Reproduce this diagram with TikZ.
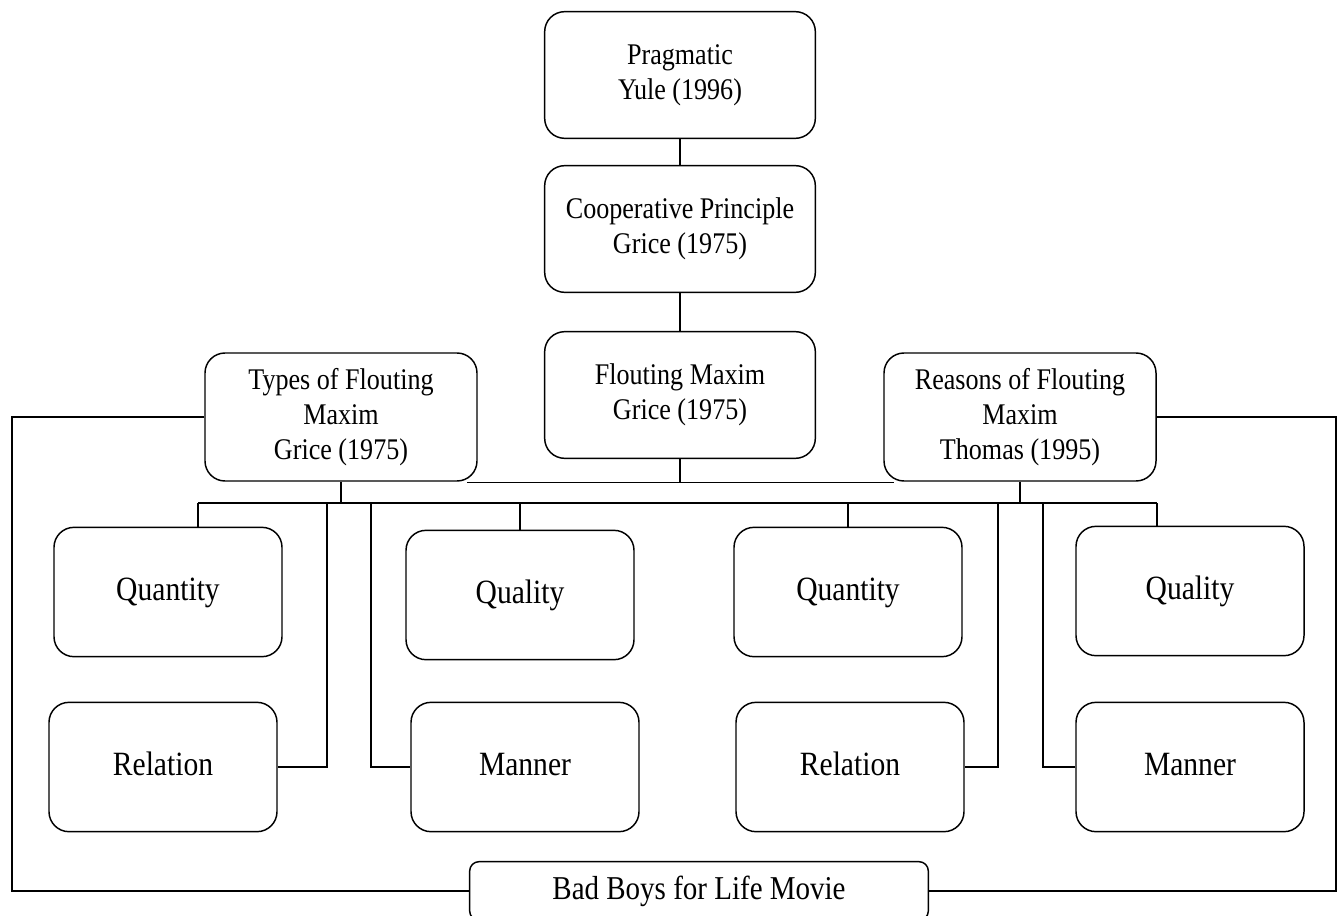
\documentclass[tikz,border=0pt]{standalone}
\usepackage{fontspec}
\setmainfont{Liberation Serif}
\newfontfamily\boxfont[FakeStretch=0.87]{Liberation Serif}
\usepackage{tikz}
\usetikzlibrary{positioning}

\begin{document}
\begin{tikzpicture}[
    x=0.75pt, y=-0.75pt,
    line width=1.1pt,
    topbox/.style={draw, rounded corners=15pt, align=center, minimum width=203pt, minimum height=95pt, font=\boxfont\fontsize{22.5}{26.25}\selectfont},
    sidebox/.style={draw, rounded corners=15pt, align=center, minimum width=204pt, minimum height=96pt, font=\boxfont\fontsize{22.5}{26.25}\selectfont},
    maxbox/.style={draw, rounded corners=15pt, align=center, minimum width=171pt, minimum height=97pt, text height=17pt, text depth=5pt, font=\boxfont\fontsize{25.5}{30}\selectfont},
    moviebox/.style={draw, rounded corners=7pt, minimum width=344pt, minimum height=44pt, font=\boxfont\fontsize{25}{30}\selectfont},
    link/.style={draw, line width=1.1pt}
]
\useasboundingbox (0,0) rectangle (1341,916);
% top chain
\node[topbox] (prag) at (680,75) {Pragmatic\\Yule (1996)};
\node[topbox] (coop) at (680,229) {Cooperative Principle\\Grice (1975)};
\node[topbox] (flout) at (680,395) {Flouting Maxim\\Grice (1975)};
\node[sidebox] (types) at (341,417) {Types of Flouting\\Maxim\\Grice (1975)};
\node[sidebox] (reasons) at (1020,417) {Reasons of Flouting\\Maxim\\Thomas (1995)};
% maxims
\node[maxbox] (qn1) at (168,592) {Quantity};
\node[maxbox] (ql1) at (520,595) {Quality};
\node[maxbox] (qn2) at (848,592) {Quantity};
\node[maxbox] (ql2) at (1190,591) {Quality};
\node[maxbox] (rel1) at (163,767) {Relation};
\node[maxbox] (man1) at (525,767) {Manner};
\node[maxbox] (rel2) at (850,767) {Relation};
\node[maxbox] (man2) at (1190,767) {Manner};
\node[moviebox] (movie) at (699,891) {Bad Boys for Life Movie};
% junction points
\coordinate (bus) at (0,503);
\coordinate (d1) at (198,503);
\coordinate (d4) at (1157,503);
\coordinate (j1) at (327,503);
\coordinate (j2) at (371,503);
\coordinate (j3) at (998,503);
\coordinate (j4) at (1043,503);
\coordinate (lc) at (12,0);
\coordinate (rc) at (1336,0);
% connectors
\draw[link] (prag) -- (coop);
\draw[link] (coop) -- (flout);
\draw[link] ([xshift=-8pt,yshift=-0.4pt]types.south east) -- ([xshift=8pt,yshift=-0.4pt]reasons.south west);
\draw[link] (flout.south) -- (flout.south |- types.south);
\draw[link] (types.south) -- (types.south |- bus);
\draw[link] (reasons.south) -- (reasons.south |- bus);
\draw[link] (d1) -- (d4);
\draw[link] (d1) -- (d1 |- qn1.north);
\draw[link] (ql1.north |- bus) -- (ql1.north);
\draw[link] (qn2.north |- bus) -- (qn2.north);
\draw[link] (d4) -- (d4 |- ql2.north);
\draw[link] (j1) |- (rel1.east);
\draw[link] (j2) |- (man1.west);
\draw[link] (j3) |- (rel2.east);
\draw[link] (j4) |- (man2.west);
\draw[link] (types.west) -| (lc |- movie.west) -- (movie.west);
\draw[link] (reasons.east) -| (rc |- movie.east) -- (movie.east);
\end{tikzpicture}
\end{document}
